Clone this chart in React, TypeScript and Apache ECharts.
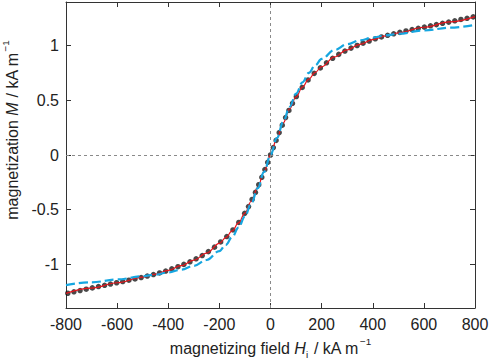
import React, { useEffect, useRef } from "react";
import * as echarts from "echarts";

// Measured points (field H_i in kA/m, magnetization M in kA/m)
const fieldH: number[] = [
  -793, -769, -745, -721, -697, -673, -649, -626, -602, -578, -554, -530, -506, -482, -458, -434,
  -410, -386, -362, -339, -315, -291, -267, -243, -219, -195, -171, -147, -124, -101, -86, -72,
  -59, -46, -34, -22, -11, 0, 11, 22, 34, 46, 59, 72, 86, 101, 124, 147, 171, 195, 219, 243, 267,
  291, 315, 339, 362, 386, 410, 434, 458, 482, 506, 530, 554, 578, 602, 626, 649, 673, 697, 721,
  745, 769, 793,
];
const measuredM: number[] = [
  -1.265, -1.252, -1.240, -1.228, -1.216, -1.204, -1.192, -1.181, -1.169, -1.158, -1.146, -1.134,
  -1.121, -1.108, -1.094, -1.079, -1.062, -1.042, -1.022, -1.001, -0.977, -0.950, -0.920, -0.884,
  -0.843, -0.796, -0.746, -0.686, -0.617, -0.534, -0.472, -0.407, -0.342, -0.272, -0.204, -0.133,
  -0.067, 0.0, 0.068, 0.134, 0.205, 0.273, 0.343, 0.408, 0.473, 0.535, 0.618, 0.687, 0.747, 0.797,
  0.844, 0.885, 0.921, 0.951, 0.978, 1.002, 1.023, 1.043, 1.063, 1.080, 1.095, 1.109, 1.122, 1.135,
  1.147, 1.159, 1.170, 1.182, 1.193, 1.205, 1.216, 1.228, 1.240, 1.251, 1.264,
];

// Curves
const curveH: number[] = [
  -800, -700, -600, -500, -450, -400, -350, -300, -250, -200, -175, -150, -125, -100, -75, -50, -25,
  0, 25, 50, 75, 100, 125, 150, 175, 200, 250, 300, 350, 400, 450, 500, 600, 700, 800,
];
const fitM: number[] = [
  -1.266, -1.218, -1.169, -1.118, -1.09, -1.055, -1.013, -0.962, -0.898, -0.808, -0.756, -0.695,
  -0.621, -0.531, -0.423, -0.295, -0.152, 0, 0.152, 0.295, 0.423, 0.531, 0.621, 0.695, 0.756, 0.808,
  0.898, 0.962, 1.013, 1.055, 1.09, 1.118, 1.169, 1.218, 1.266,
];
const modelM: number[] = [
  -1.19, -1.165, -1.139, -1.11, -1.094, -1.075, -1.049, -1.014, -0.961, -0.879, -0.822, -0.751,
  -0.664, -0.561, -0.44, -0.304, -0.155, 0, 0.155, 0.304, 0.44, 0.561, 0.664, 0.751, 0.822, 0.879,
  0.961, 1.014, 1.049, 1.075, 1.094, 1.11, 1.139, 1.165, 1.19,
];

const xTicks: number[] = [-800, -600, -400, -200, 0, 200, 400, 600, 800];
const yTicks: number[] = [-1, -0.5, 0, 0.5, 1];

const FONT = "Liberation Sans, Arial, Helvetica, sans-serif";
const AXIS_COLOR = "#333";

export default function App() {
  const ref = useRef<HTMLDivElement>(null);

  useEffect(() => {
    if (!ref.current) return;
    const chart = echarts.init(ref.current, null, { renderer: "svg" });

    const richName = (size: number) => ({
      n: { fontSize: size, fontFamily: FONT, color: "#222" },
      i: { fontSize: size, fontFamily: FONT, color: "#222", fontStyle: "italic" as const },
      s: { fontSize: size * 0.62, fontFamily: FONT, color: "#222", verticalAlign: "bottom" as const, padding: [0, 1, -3, 0] },
      p: { fontSize: size * 0.62, fontFamily: FONT, color: "#222", verticalAlign: "top" as const, padding: [-4, 0, 0, 1] },
    });

    const xBase = {
      type: "value" as const,
      min: -800,
      max: 800,
      interval: 200,
      axisLine: { show: true, onZero: false, lineStyle: { color: AXIS_COLOR, width: 1 } },
      axisTick: { show: true, inside: true, length: 5, lineStyle: { color: AXIS_COLOR } },
      splitLine: { show: false },
    };
    const yBase = {
      type: "value" as const,
      min: -1.4,
      max: 1.4,
      axisLine: { show: true, onZero: false, lineStyle: { color: AXIS_COLOR, width: 1 } },
      axisTick: { show: true, inside: true, length: 5, customValues: yTicks, lineStyle: { color: AXIS_COLOR } },
      splitLine: { show: false },
    };

    chart.setOption({
      animation: false,
      backgroundColor: "#fff",
      grid: { left: 66, right: 16, top: 2, bottom: 53, containLabel: false, outerBoundsMode: "none" },
      xAxis: [
        {
          ...xBase,
          position: "bottom",
          axisLabel: { show: true, fontSize: 16, fontFamily: FONT, color: "#222", margin: 8, customValues: xTicks },
          axisTick: { ...xBase.axisTick, customValues: xTicks },
          name: "{n|magnetizing field }{i|H}{s|i}{n| / kA m}{p|−1}",
          nameLocation: "middle",
          nameGap: 29,
          nameTextStyle: { rich: richName(16) },
        },
        {
          ...xBase,
          position: "top",
          axisLabel: { show: false },
          axisTick: { ...xBase.axisTick, customValues: xTicks },
        },
      ],
      yAxis: [
        {
          ...yBase,
          position: "left",
          axisLabel: {
            show: true,
            fontSize: 16,
            fontFamily: FONT,
            color: "#222",
            margin: 7,
            customValues: yTicks,
            formatter: (v: number) => String(v),
          },
          name: "{n|magnetization }{i|M}{n| / kA m}{p|−1}",
          nameLocation: "middle",
          nameGap: 42,
          nameRotate: 90,
          nameTextStyle: { rich: richName(16), padding: [0, 0, 0, 50] },
        },
        {
          ...yBase,
          position: "right",
          axisLabel: { show: false },
        },
      ],
      series: [
        {
          type: "line",
          data: [],
          z: 1,
          silent: true,
          markLine: {
            silent: true,
            symbol: "none",
            label: { show: false },
            lineStyle: { color: "#8a8a8a", width: 1, type: [3, 3] },
            data: [{ xAxis: 0 }, { yAxis: 0 }],
          },
        },
        {
          type: "scatter",
          data: fieldH.map((h, k) => [h, measuredM[k]]),
          symbol: "circle",
          symbolSize: 5.5,
          itemStyle: { color: "#1c1c1c" },
          z: 2,
        },
        {
          type: "line",
          data: curveH.map((h, k) => [h, fitM[k]]),
          showSymbol: false,
          smooth: 0.4,
          smoothMonotone: "x",
          lineStyle: { color: "#e8141c", width: 1.2 },
          z: 3,
        },
        {
          type: "line",
          data: curveH.map((h, k) => [h, modelM[k]]),
          showSymbol: false,
          smooth: 0.4,
          smoothMonotone: "x",
          lineStyle: { color: "#16a6e0", width: 2.2, type: [9, 4] },
          z: 4,
        },
      ],
    });

    return () => chart.dispose();
  }, []);

  return (
    <div
      ref={ref}
      style={{ position: "fixed", left: 0, top: 0, width: 491, height: 361, background: "#fff" }}
    />
  );
}
